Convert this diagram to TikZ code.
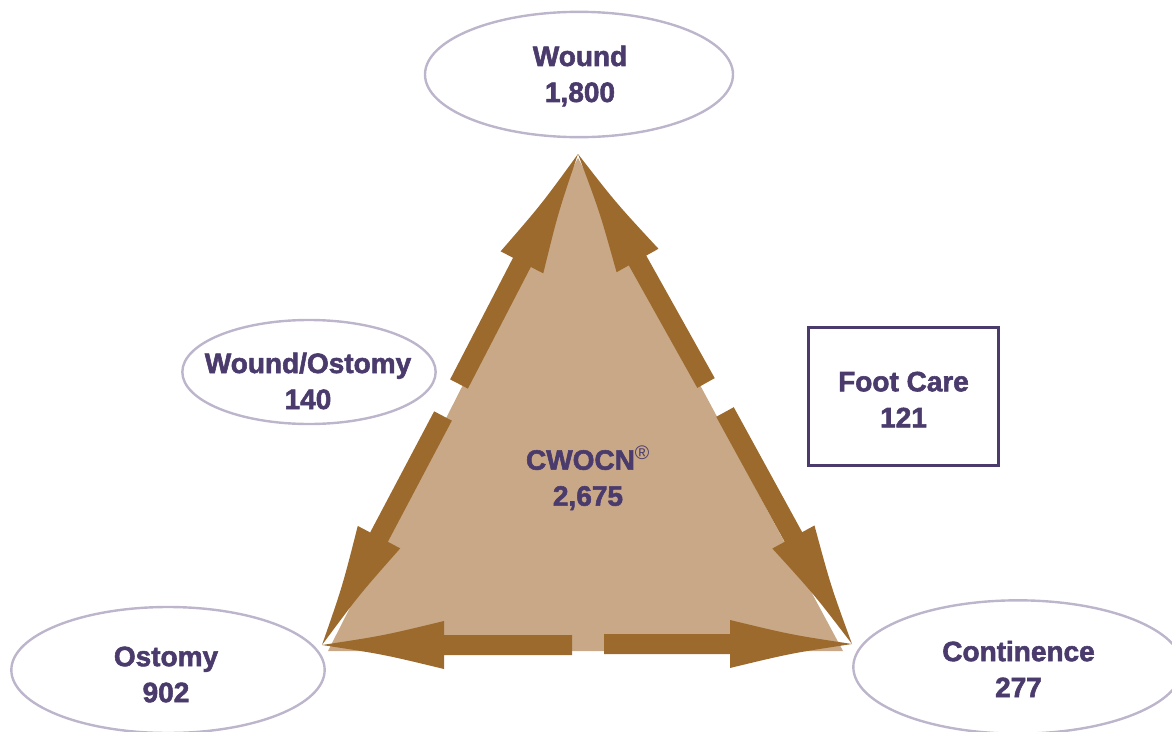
\documentclass[tikz,border=0pt]{standalone}
\usepackage{fontspec}
\setmainfont{Liberation Sans}[BoldFeatures={FakeBold=2}]
\usetikzlibrary{shapes.geometric,calc}

\definecolor{trifill}{HTML}{C8A886}
\definecolor{arrowbrown}{HTML}{9C6A2D}
\definecolor{labelpurple}{HTML}{4A3B6C}
\definecolor{ovalgrey}{HTML}{BDB5CB}

\begin{document}
\begin{tikzpicture}[x=0.75pt, y=-0.75pt, >=latex,
  lbl/.style={font=\fontsize{21}{27}\selectfont\bfseries, text=labelpurple, align=center},
  oval/.style={ellipse, draw=ovalgrey, line width=1.8pt, inner sep=0pt}]
  \useasboundingbox (0,0) rectangle (1172,732);

  % Central triangle
  \fill[trifill] (578,158) -- (328,651) -- (843,651) -- cycle;

  % Arrow tips and tails along the edges
  \coordinate (apex) at (578,154);
  \coordinate (lft) at (322,645);
  \coordinate (rgt) at (852,644);
  \coordinate (tailLU) at (459,384);
  \coordinate (tailRU) at (706,383);
  \coordinate (tailLL) at (443,416);
  \coordinate (tailRL) at (725,412);
  \coordinate (tailBL) at (572,645);
  \coordinate (tailBR) at (604,644);

  % Concave-headed arrows: shaft 15pt, head 36pt wide, 91.5pt long
  \foreach \src/\dst in {tailLU/apex, tailRU/apex, tailLL/lft, tailRL/rgt, tailBL/lft, tailBR/rgt} {
    \coordinate (hb) at ($(\dst)!91.5pt!(\src)$);
    \coordinate (hm) at ($(\dst)!46pt!(\src)$);
    \fill[arrowbrown]
      ($(\src)!7.5pt!90:(\dst)$) -- ($(hb)!7.5pt!90:(\dst)$) -- ($(hb)!18pt!90:(\dst)$)
      .. controls ($(hm)!7pt!90:(\dst)$) .. (\dst)
      .. controls ($(hm)!7pt!-90:(\dst)$) .. ($(hb)!18pt!-90:(\dst)$)
      -- ($(hb)!7.5pt!-90:(\dst)$) -- ($(\src)!7.5pt!-90:(\dst)$) -- cycle;
  }

  % Outer categories
  \node[oval, minimum width=231pt, minimum height=94pt] (woundoval) at (579,74.5) {};
  \node[oval, minimum width=190pt, minimum height=78pt] (woostoval) at (309,372) {};
  \node[oval, minimum width=235pt, minimum height=94.5pt] (ostomyoval) at (168,670) {};
  \node[oval, minimum width=247pt, minimum height=100pt] (continoval) at (1018,667) {};
  \node[draw=labelpurple, line width=2.2pt, minimum width=142pt, minimum height=103pt] (footbox) at (903.5,396.5) {};

  \node[lbl] (wound) at (580,76) {Wound\\1,800};
  \node[lbl] (woundost) at (308,381) {Wound/Ostomy\\140};
  \node[lbl] (footcare) at (903.5,399.5) {Foot Care\\121};
  \node[lbl] (ostomy) at (166,674.5) {Ostomy\\902};
  \node[lbl] (continence) at (1018.5,669) {Continence\\277};
  \node[lbl] (cwocn) at (588,478) {CWOCN\textsuperscript{\mdseries ®}\\2,675};
\end{tikzpicture}
\end{document}
